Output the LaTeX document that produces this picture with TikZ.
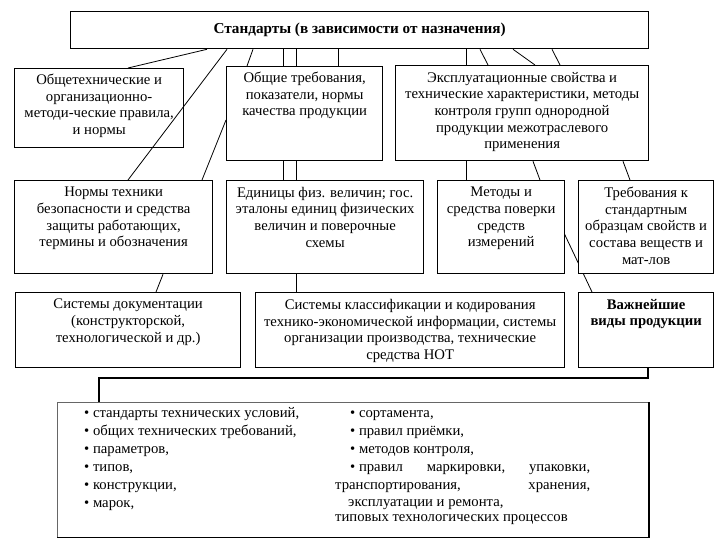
\documentclass[tikz,border=0pt]{standalone}
\usepackage{fontspec}
\setmainfont{Liberation Serif}
\usetikzlibrary{positioning, backgrounds}

\begin{document}
\begin{tikzpicture}[x=1pt, y=-1pt,
    cell/.style={draw=black, line width=1.3pt, fill=white,
                 anchor=north west, inner sep=0pt},
    txt/.style={align=center, inner sep=0pt,
                font=\fontsize{14.7}{16.6}\selectfont},
    head/.style={txt, font=\fontsize{15.2}{17}\selectfont\bfseries},
    item/.style={anchor=base west, inner sep=0pt,
                 font=\fontsize{14.7}{16.6}\selectfont},
    link/.style={line width=0.8pt},
    bracket/.style={line width=1.8pt},
]
\useasboundingbox (0,0) rectangle (720,540);

%---------------------------------------------------------------
% Top: the root box
%---------------------------------------------------------------
\node[cell, minimum width=578pt, minimum height=37pt] (std) at (70,11) {};
\node[head] (std-t) at (std.center) {Стандарты (в зависимости от назначения)};

%---------------------------------------------------------------
% Row 1
%---------------------------------------------------------------
\node[cell, minimum width=169pt, minimum height=79pt] (obsh) at (14,68) {};
\node[txt, below=6pt of obsh.north] (obsh-t)
     {Общетехнические и\\ организационно-\\ методи-ческие правила,\\ и нормы};

\node[cell, minimum width=156pt, minimum height=94pt] (treb) at (226,66) {};
\node[txt, below=6pt of treb.north] (treb-t)
     {Общие требования,\\ показатели, нормы\\ качества продукции};

\node[cell, minimum width=253pt, minimum height=95pt] (expl) at (395,65) {};
\node[txt, below=7pt of expl.north] (expl-t)
     {Эксплуатационные свойства и\\ технические характеристики, методы\\
      контроля групп однородной\\ продукции межотраслевого\\ применения};

%---------------------------------------------------------------
% Row 2
%---------------------------------------------------------------
% F -> J runs under the standard-samples box
\begin{scope}[on background layer]
    \draw[link] (564,233) coordinate (metod-r) -- (592,292) coordinate (vazhn-n);
\end{scope}

\node[cell, minimum width=198pt, minimum height=93pt] (norm) at (14,180) {};
\node[txt, below=7pt of norm.north] (norm-t)
     {Нормы техники\\ безопасности и средства\\ защиты работающих,\\ термины и обозначения};

\node[cell, minimum width=197pt, minimum height=93pt] (edin) at (226,180) {};
\node[txt, below=7pt of edin.north] (edin-t)
     {Единицы физ. величин; гос.\\ эталоны единиц физических\\ величин и поверочные\\ схемы};

\node[cell, minimum width=127pt, minimum height=93pt] (metod) at (437,180) {};
\node[txt, below=7pt of metod.north] (metod-t)
     {Методы и\\ средства поверки\\ средств\\ измерений};

\node[cell, minimum width=135pt, minimum height=93pt] (obraz) at (578,180) {};
\node[txt, below=7pt of obraz.north] (obraz-t)
     {Требования к\\ стандартным\\ образцам свойств и\\ состава веществ и\\ мат-лов};

%---------------------------------------------------------------
% Row 3
%---------------------------------------------------------------
\node[cell, minimum width=225pt, minimum height=75pt] (docs) at (15,292) {};
\node[txt, below=7pt of docs.north] (docs-t)
     {Системы документации\\ (конструкторской,\\ технологической и др.)};

\node[cell, minimum width=309pt, minimum height=75pt] (klass) at (255,292) {};
\node[txt, below=7pt of klass.north] (klass-t)
     {Системы классификации и кодирования\\ технико-экономической информации, системы\\
      организации производства, технические\\ средства НОТ};

\node[cell, minimum width=135pt, minimum height=75pt] (vazhn) at (578,292) {};
\node[head, font=\fontsize{14.7}{16.6}\selectfont\bfseries, below=7pt of vazhn.north]
     (vazhn-t) {Важнейшие\\ виды продукции};

%---------------------------------------------------------------
% Bottom: list of kinds
%---------------------------------------------------------------
\node[cell, draw=black!60, line width=0.8pt, minimum width=591pt,
      minimum height=135pt] (list) at (57,402) {};
\draw[line width=1.3pt] (list.south west) -- (list.south east);
\draw[bracket] (list.north east) -- (list.south east);

\foreach \t [count=\i from 0] in {{стандарты технических условий,},
    {общих технических требований,}, {параметров,}, {типов,},
    {конструкции,}, {марок,}} {
    \node[item] (lft\i) at (84, 417+18*\i) {\textbullet\ \t};
}
\foreach \t [count=\i from 0] in {{сортамента,}, {правил приёмки,},
    {методов контроля,}} {
    \node[item] (rgt\i) at (350, 417+18*\i) {\textbullet\ \t};
}
\node[item] (rgt3) at (350, 471)
     {\makebox[240pt][l]{\textbullet\ правил\hfill маркировки,\hfill упаковки,}};
\node[item] (rgt4) at (335, 489)
     {\makebox[255pt][l]{транспортирования,\hfill хранения,}};
\node[item] (rgt5) at (348, 506) {эксплуатации и ремонта,};
\node[item] (rgt6) at (335, 521) {типовых технологических процессов};

%---------------------------------------------------------------
% Connectors
%---------------------------------------------------------------
\draw[link] (std.south -| 207,0) -- (obsh.north -| 128,0);
\draw[link] (std.south -| 227,0) -- (norm.north -| 128,0);
\draw[link] (std.south -| 253,0) -- (treb.north -| 247,0);
\draw[link] (treb.west |- 0,120) -- (norm.north -| 202,0);
\foreach \x in {283,296,338} {
    \draw[link] (std.south -| \x,0) -- (treb.north -| \x,0);
}
\foreach \x in {283,296} {
    \draw[link] (treb.south -| \x,0) -- (edin.north -| \x,0);
}
\draw[link] (edin.south -| 296,0) -- (klass.north -| 296,0);
\draw[link] (norm.south -| 163,0) -- (docs.north -| 156,0);

\draw[link] (std.south -| 466,0) -- (expl.north -| 466,0);
\draw[link] (expl.south -| 466,0) -- (metod.north -| 466,0);
\draw[link] (std.south -| 480,0) -- (expl.north -| 488,0);
\draw[link] (std.south -| 513,0) -- (expl.north -| 535,0);
\draw[link] (std.south -| 552,0) -- (expl.north -| 560,0);
\draw[link] (expl.south -| 533,0) -- (metod.north -| 540,0);
\draw[link] (expl.south -| 623,0) -- (obraz.north -| 630,0);

% bracket from the main kinds of products down to the list
\draw[bracket] (vazhn.south -| 648,0) |- (99,378) -- (list.north -| 99,0);

\end{tikzpicture}
\end{document}
